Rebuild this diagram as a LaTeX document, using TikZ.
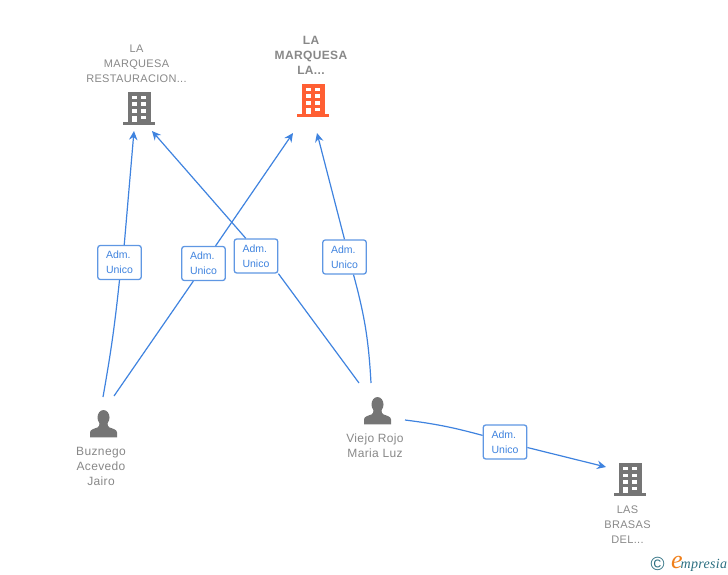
\documentclass[tikz,border=0pt]{standalone}
\usepackage{fontspec}
\setmainfont{Liberation Sans}
\newfontfamily\namefont[LetterSpace=3]{Liberation Sans}
\newfontfamily\logofont[LetterSpace=2]{Liberation Serif}
\usetikzlibrary{arrows.meta}
\definecolor{wireblue}{HTML}{3F83DF}
\definecolor{boxblue}{HTML}{5F97E3}
\definecolor{iconred}{HTML}{FF5F33}
\definecolor{icongrey}{HTML}{757575}
\definecolor{namegrey}{HTML}{888888}
\definecolor{logoteal}{HTML}{2B6E80}
\definecolor{logoorange}{HTML}{F07F1A}
\tikzset{
	building/.pic={
		\fill[pic actions] (-11.5,0) rectangle (11.5,32);
		\fill[pic actions] (-16,30.5) rectangle (16,33.5);
		\foreach \row in {4,10.8,17.5} {
			\fill[white] (-7.3,\row) rectangle (-2.3,\row+3.5);
			\fill[white] (2,\row) rectangle (7,\row+3.5);
		}
		\fill[white] (-7.3,24) rectangle (-2.3,30.5);
		\fill[white] (2,24) rectangle (7,27.6);
	},
	person/.pic={
		\fill[pic actions] (0,7.5) ellipse (6 and 7.5);
		\fill[pic actions] (-13.5,27.3) -- (-13.5,22.5) .. controls (-13.5,19.5) and (-9,18.5) .. (-6,17.5) .. controls (-4.5,17) and (-4,15) .. (-4,13) -- (4,13) .. controls (4,15) and (4.5,17) .. (6,17.5) .. controls (9,18.5) and (13.5,19.5) .. (13.5,22.5) -- (13.5,27.3) -- cycle;
	},
	adm/.style={draw=boxblue, line width=1.3pt, rounded corners=2.5pt, fill=white, text=wireblue, minimum width=43.5pt, minimum height=34pt, inner sep=0pt, align=left, font=\fontsize{10.5}{15}\selectfont},
	wire/.style={draw=wireblue, line width=1.2pt},
	wirehead/.style={wire, -{Stealth[length=9pt,width=8.5pt,inset=3pt]}},
	firm/.style={text=namegrey, align=center, inner sep=0pt, font=\namefont\fontsize{11}{15}\selectfont},
	firmmain/.style={text=namegrey, align=center, inner sep=0pt, font=\bfseries\namefont\fontsize{12}{15}\selectfont},
	man/.style={text=namegrey, align=center, inner sep=0pt, font=\namefont\fontsize{12}{15}\selectfont}
}
\begin{document}
\begin{tikzpicture}[x=1pt, y=-1pt]
	\useasboundingbox (0,0) rectangle (728,575);

	%Icons and names
	\pic[fill=icongrey] at (139,91.7) {building};
	\pic[fill=iconred] at (313,83.6) {building};
	\pic[fill=icongrey] at (630,462.7) {building};
	\pic[fill=icongrey] at (103.5,410) {person};
	\pic[fill=icongrey] at (377.5,397) {person};

	\node[firm] (restauracion) at (136.5,63.5) {LA\\MARQUESA\\RESTAURACION...};
	\node[firmmain] (marquesa) at (311,55) {LA\\MARQUESA\\LA...};
	\node[firm] (brasas) at (627.5,525) {LAS\\BRASAS\\DEL...};
	\node[man] (buznego) at (101,466) {Buznego\\Acevedo\\Jairo};
	\node[man] (viejo) at (375,446) {Viejo Rojo\\Maria Luz};

	%Free ends of the connectors
	\coordinate (buznegoa) at (103,397);
	\coordinate (buznegob) at (114,396);
	\coordinate (viejoa) at (359,383);
	\coordinate (viejob) at (371,383);
	\coordinate (viejoc) at (405,420);
	\coordinate (restaurant) at (134,131);
	\coordinate (restaurantb) at (152,131);
	\coordinate (marquesat) at (293,133);
	\coordinate (marquesab) at (317,133);
	\coordinate (brasast) at (606,467);

	%Role boxes
	\node[adm] (adm1) at (119.5,262.5) {Adm.\\Unico};
	\node[adm] (adm2) at (203.5,263.5) {Adm.\\Unico};
	\node[adm] (adm3) at (256,256) {Adm.\\Unico};
	\node[adm] (adm4) at (344.5,257) {Adm.\\Unico};
	\node[adm] (adm5) at (505,442) {Adm.\\Unico};

	%Connectors
	\draw[wire] (buznegoa) to[bend right=2] (adm1.south);
	\draw[wirehead] (adm1.75) -- (restaurant);
	\draw[wire] (buznegob) -- (adm2.-120);
	\draw[wirehead] (adm2) -- (marquesat);
	\draw[wire] (viejoa) -- (adm3.south east);
	\draw[wirehead] (adm3.120) -- (restaurantb);
	\draw[wire] (viejob) to[bend right=6] (adm4.-63);
	\draw[wirehead] (adm4.north) -- (marquesab);
	\draw[wire] (viejoc) to[bend left=4] (adm5);
	\draw[wirehead] (adm5) -- (brasast);

	%Logo
	\node[text=logoteal, inner sep=0pt, font=\fontsize{19}{19}\selectfont] (copyright) at (657.5,563.5) {\textcopyright};
	\node[text=logoteal, inner sep=0pt, anchor=base west, font=\logofont\itshape\fontsize{14}{14}\selectfont] (logo) at (671,568) {\textcolor{logoorange}{\fontsize{26}{26}\selectfont e}\hspace{-2pt}mpresia};
\end{tikzpicture}
\end{document}
